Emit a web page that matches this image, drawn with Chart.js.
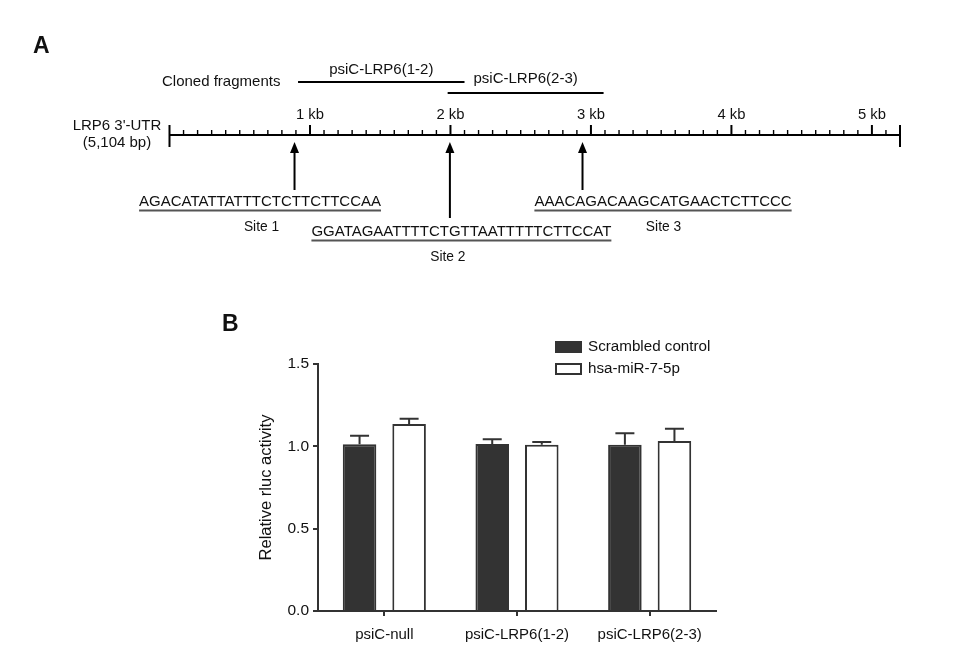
<!DOCTYPE html>
<html><head><meta charset="utf-8">
<script src="https://cdn.jsdelivr.net/npm/chart.js@4.4.1/dist/chart.umd.min.js"></script>
<style>
html,body{margin:0;padding:0;background:#fff;width:955px;height:654px;overflow:hidden}
#a{position:absolute;left:0;top:0}
#b{position:absolute;left:0;top:290px}
</style></head><body>
<canvas id="a" width="955" height="290"></canvas>
<canvas id="b" width="955" height="364"></canvas>
<script>
// ---------- Panel A data (kb along the LRP6 3'-UTR) ----------
const utrLabel = ["LRP6 3'-UTR", "(5,104 bp)"];
const rulerEndKb = 5.2;
const kbTickValues = [1, 2, 3, 4, 5];
const kbTickLabels = ["1 kb", "2 kb", "3 kb", "4 kb", "5 kb"];
const fragmentNames = ["psiC-LRP6(1-2)", "psiC-LRP6(2-3)"];
const fragmentStart = [0.915, 1.98];
const fragmentEnd = [2.10, 3.09];
const siteNames = ["Site 1", "Site 2", "Site 3"];
const sitePositions = [0.89, 1.996, 2.94];
const siteSequences = ["AGACATATTATTTCTCTTCTTCCAA", "GGATAGAATTTTCTGTTAATTTTTCTTCCAT", "AAACAGACAAGCATGAACTCTTCCC"];

// ---------- Panel B data ----------
const categories = ["psiC-null", "psiC-LRP6(1-2)", "psiC-LRP6(2-3)"];
const seriesNames = ["Scrambled control", "hsa-miR-7-5p"];
const scrambled = [1.012, 1.014, 1.010];
const scrambledErr = [0.053, 0.029, 0.069];
const mir7 = [1.136, 1.010, 1.032];
const mir7Err = [0.032, 0.016, 0.075];
const yTickValues = [0, 0.5, 1.0, 1.5];

const FONT = "'Liberation Sans', Arial, sans-serif";
const INK = '#111';

// ---------- Panel A layout (pixels) ----------
const LA = {
  rulerY: 135, fragY: [82, 93], fragLabelY: [70, 79], clonedX: 162,
  kbLabelY: 115, tipY: 142, arrowBottom: [190, 218, 190],
  seqY: [202, 232, 202], seqDx: [-34.5, 11.5, 80.5],
  siteLabelY: [227, 257, 227], siteDx: [-33, -2, 81]
};

const panelAPlugin = {
  id: 'panelA',
  afterDraw(chart) {
    const ctx = chart.ctx, xs = chart.scales.x;
    const X = v => xs.getPixelForValue(v);
    const seg = (x1, y1, x2, y2, w) => { ctx.lineWidth = w; ctx.beginPath(); ctx.moveTo(x1, y1); ctx.lineTo(x2, y2); ctx.stroke(); };
    ctx.save();
    ctx.strokeStyle = '#000'; ctx.fillStyle = INK;
    // panel letter
    ctx.font = "bold 23px " + FONT; ctx.textBaseline = 'middle'; ctx.textAlign = 'left';
    ctx.fillText('A', 33, 47);
    // ruler
    const R = LA.rulerY;
    seg(X(0), R, X(rulerEndKb), R, 2);
    for (let i = 1; i / 10 < rulerEndKb - 1e-6; i++) {
      const major = i % 10 === 0;
      const px = X(i / 10);
      seg(px, R, px, R - (major ? 10 : 5), major ? 2 : 1.4);
    }
    [0, rulerEndKb].forEach(v => seg(X(v), R - 10, X(v), R + 12, 2));
    // kb labels
    ctx.font = "14.8px " + FONT; ctx.textAlign = 'center';
    kbTickValues.forEach((v, i) => ctx.fillText(kbTickLabels[i], X(v), LA.kbLabelY));
    // UTR label
    ctx.font = "15px " + FONT;
    ctx.fillText(utrLabel[0], 117, 126);
    ctx.fillText(utrLabel[1], 117, 143);
    // cloned fragments
    ctx.textAlign = 'left';
    ctx.fillText('Cloned fragments', LA.clonedX, LA.fragY[0]);
    ctx.textAlign = 'center';
    fragmentNames.forEach((n, i) => {
      ctx.fillText(n, (X(fragmentStart[i]) + X(fragmentEnd[i])) / 2, LA.fragLabelY[i]);
    });
    // sites
    sitePositions.forEach((s, i) => {
      const px = X(s);
      seg(px, LA.tipY + 8, px, LA.arrowBottom[i], 2);
      ctx.fillStyle = '#000';
      ctx.beginPath(); ctx.moveTo(px, LA.tipY); ctx.lineTo(px - 4.5, LA.tipY + 11); ctx.lineTo(px + 4.5, LA.tipY + 11); ctx.closePath(); ctx.fill();
      ctx.fillStyle = INK;
      ctx.font = "15px " + FONT; ctx.textAlign = 'center';
      const cx = px + LA.seqDx[i];
      ctx.fillText(siteSequences[i], cx, LA.seqY[i]);
      const w = ctx.measureText(siteSequences[i]).width;
      ctx.strokeStyle = '#555';
      seg(cx - w / 2, LA.seqY[i] + 8.5, cx + w / 2, LA.seqY[i] + 8.5, 2);
      ctx.strokeStyle = '#000';
      ctx.font = "13.8px " + FONT;
      ctx.fillText(siteNames[i], px + LA.siteDx[i], LA.siteLabelY[i]);
    });
    ctx.restore();
  }
};

new Chart(document.getElementById('a'), {
  type: 'scatter',
  data: {
    datasets: fragmentNames.map((n, i) => ({
      label: n,
      data: [{x: fragmentStart[i], y: LA.fragY[i]}, {x: fragmentEnd[i], y: LA.fragY[i]}],
      showLine: true, borderColor: '#000', borderWidth: 2, pointRadius: 0
    }))
  },
  options: {
    responsive: false, animation: false, devicePixelRatio: 1,
    layout: {padding: {left: 169.5, right: 55, top: 0, bottom: 0}},
    plugins: {legend: {display: false}, tooltip: {enabled: false}},
    scales: {
      x: {type: 'linear', min: 0, max: rulerEndKb, display: false},
      y: {type: 'linear', min: 0, max: 290, reverse: true, display: false}
    }
  },
  plugins: [panelAPlugin]
});

// ---------- Panel B ----------
const errorBars = {
  id: 'errorBars',
  afterDatasetsDraw(chart) {
    const ctx = chart.ctx, ys = chart.scales.y;
    ctx.save(); ctx.strokeStyle = '#333'; ctx.lineWidth = 2;
    chart.data.datasets.forEach((ds, i) => {
      chart.getDatasetMeta(i).data.forEach((bar, j) => {
        const top = ys.getPixelForValue(ds.data[j] + ds.errors[j]);
        ctx.beginPath();
        ctx.moveTo(bar.x, bar.y); ctx.lineTo(bar.x, top);
        ctx.moveTo(bar.x - 9.5, top); ctx.lineTo(bar.x + 9.5, top);
        ctx.stroke();
      });
    });
    ctx.restore();
  }
};
const panelBDecor = {
  id: 'panelBDecor',
  afterDraw(chart) {
    const ctx = chart.ctx;
    ctx.save();
    ctx.fillStyle = INK; ctx.textBaseline = 'middle'; ctx.textAlign = 'left';
    ctx.font = "bold 23px " + FONT;
    ctx.fillText('B', 222, 35);
    ctx.font = "15.2px " + FONT;
    chart.data.datasets.forEach((ds, i) => {
      const y = 52 + i * 22;
      ctx.fillStyle = ds.backgroundColor; ctx.strokeStyle = ds.borderColor; ctx.lineWidth = 2;
      ctx.fillRect(556, y, 25, 10); ctx.strokeRect(556, y, 25, 10);
      ctx.fillStyle = INK;
      ctx.fillText(ds.label, 588, y + 5);
    });
    ctx.restore();
  }
};

new Chart(document.getElementById('b'), {
  type: 'bar',
  data: {
    labels: categories,
    datasets: [
      {label: seriesNames[0], data: scrambled, errors: scrambledErr, backgroundColor: '#333', borderColor: '#333', borderWidth: 2},
      {label: seriesNames[1], data: mir7, errors: mir7Err, backgroundColor: '#fff', borderColor: '#333', borderWidth: 2}
    ]
  },
  options: {
    responsive: false, animation: false, devicePixelRatio: 1,
    layout: {padding: {left: 257, right: 239, top: 74, bottom: 0}},
    datasets: {bar: {categoryPercentage: 0.747, barPercentage: 0.677}},
    plugins: {legend: {display: false}, tooltip: {enabled: false}},
    scales: {
      x: {
        grid: {display: true, drawOnChartArea: false, offset: false, tickLength: 5, color: '#333', lineWidth: 2},
        border: {color: '#333', width: 2},
        ticks: {color: INK, font: {family: FONT, size: 15}, padding: 10, maxRotation: 0},
        afterFit(s) { s.height = 43; }
      },
      y: {
        min: 0, max: 1.5,
        afterBuildTicks(s) { s.ticks = yTickValues.map(v => ({value: v})); },
        grid: {drawOnChartArea: false, tickLength: 5, color: '#333', lineWidth: 2},
        border: {color: '#333', width: 2},
        ticks: {color: INK, font: {family: FONT, size: 15.5}, padding: 4, callback: v => Number(v).toFixed(1)},
        title: {display: true, text: 'Relative rluc activity', color: INK, font: {family: FONT, size: 16.5}, padding: {top: 0, bottom: 0}},
        afterFit(s) { s.width = 61; }
      }
    }
  },
  plugins: [errorBars, panelBDecor]
});
</script>
</body></html>
